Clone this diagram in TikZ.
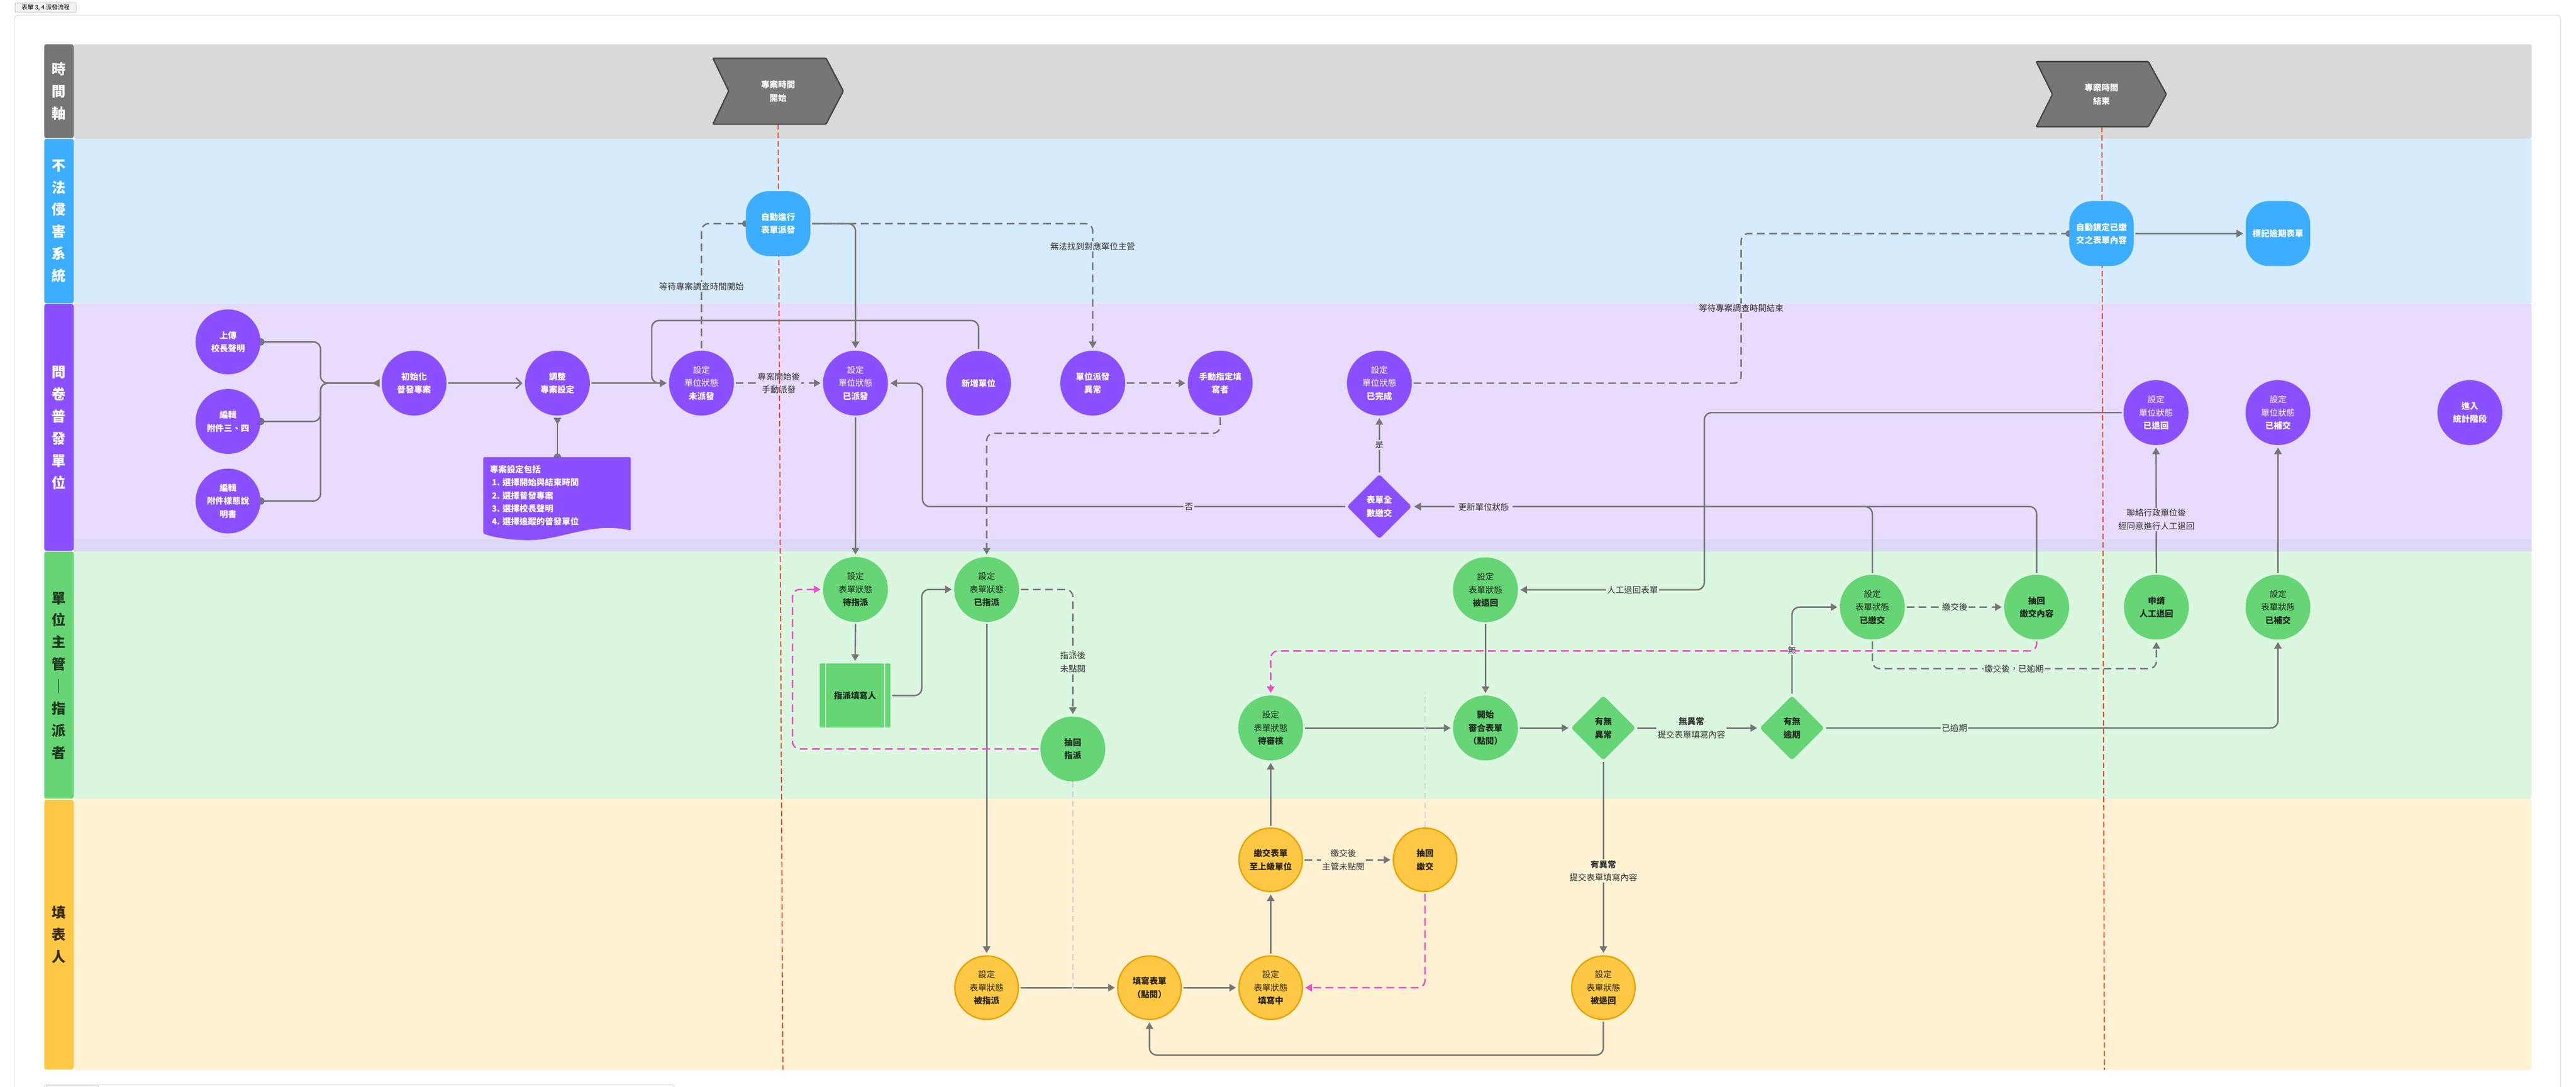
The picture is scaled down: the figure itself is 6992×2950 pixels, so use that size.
\documentclass[tikz,border=0pt]{standalone}
\usepackage{fontspec}
\setmainfont{Noto Sans CJK TC}
\usetikzlibrary{arrows.meta,shapes.geometric}
\definecolor{tbg}{HTML}{D9D9D9}
\definecolor{tlab}{HTML}{767676}
\definecolor{bbg}{HTML}{D6ECFE}
\definecolor{bnode}{HTML}{3DAEFF}
\definecolor{pbg}{HTML}{E7DCFF}
\definecolor{pstrip}{HTML}{DCD8F6}
\definecolor{pnode}{HTML}{8A50FF}
\definecolor{gbg}{HTML}{DCF7E0}
\definecolor{gnode}{HTML}{66D575}
\definecolor{gtext}{HTML}{1C2A1E}
\definecolor{glab}{HTML}{1E3A22}
\definecolor{ybg}{HTML}{FFF1D1}
\definecolor{ynode}{HTML}{FFC845}
\definecolor{yline}{HTML}{E9A300}
\definecolor{ytext}{HTML}{2A2410}
\definecolor{ylab}{HTML}{3A2C08}
\definecolor{ec}{HTML}{767676}
\definecolor{redc}{HTML}{E8472D}
\definecolor{pinkc}{HTML}{F04BC9}
\definecolor{lgc}{HTML}{D6D6D6}
\definecolor{labc}{HTML}{333333}
\definecolor{chevd}{HTML}{474747}
\definecolor{framec}{HTML}{E3E3E3}
\definecolor{tabf}{HTML}{F2F2F2}
\definecolor{tabd}{HTML}{CFCFCF}
\definecolor{botc}{HTML}{CDEBD6}
\newcommand\myNF{\fontsize{6.54pt}{10.1pt}\selectfont}
\newcommand\myLF{\fontsize{10.8pt}{17.07pt}\selectfont\bfseries}
\pgfdeclarelayer{back}
\pgfdeclarelayer{edgel}
\pgfdeclarelayer{labl}
\pgfdeclarelayer{topl}
\pgfsetlayers{back,edgel,labl,topl,main}
\tikzset{
 pn/.style={circle,fill=pnode,minimum size=1.76cm,inner sep=0pt,text=white,align=center,font=\myNF},
 gn/.style={circle,fill=gnode,minimum size=1.76cm,inner sep=0pt,text=gtext,align=center,font=\myNF},
 yn/.style={circle,fill=ynode,draw=yline,line width=1.1pt,minimum size=1.72cm,inner sep=0pt,text=ytext,align=center,font=\myNF},
 bn/.style={rectangle,rounded corners=0.62cm,fill=bnode,minimum width=1.75cm,minimum height=1.76cm,inner sep=0pt,text=white,align=center,font=\myNF\bfseries},
 dm/.style={diamond,aspect=1,minimum width=1.76cm,minimum height=1.76cm,inner sep=0pt,rounded corners=0.08cm,align=center,font=\myNF\bfseries},
 lanelbl/.style={rounded corners=0.06cm},
 conn/.style={draw=ec,line width=1.14pt,rounded corners=0.2cm,shorten >=0.06cm,shorten <=0.04cm},
 ar/.style={-{Triangle[length=0.18cm,width=0.2cm]}},
 rtri/.style={-{Triangle[reversed,length=0.19cm,width=0.2cm]}},
 dsh/.style={dash pattern=on 0.21cm off 0.12cm},
 pk/.style={draw=pinkc},
 lgd/.style={draw=lgc,line width=1.14pt,dash pattern=on 0.16cm off 0.1cm},
 elab/.style={font=\myNF,text=labc,inner sep=0.03cm,align=center},
 vlab/.style={font=\myLF,align=center,inner sep=0pt},
}
\begin{document}
\begin{tikzpicture}[x=0.01cm,y=-0.01cm]
\path[use as bounding box] (0,0) rectangle (6992,2950);
\clip (0,0) rectangle (6992,2950);

% ---------------- background ----------------
\begin{pgfonlayer}{back}
\fill[white] (0,0) rectangle (6992,2950);
\draw[framec,line width=0.6pt,rounded corners=0.1cm] (40,41) rectangle (6950,3100);
\draw[fill=tabf,draw=tabd,line width=0.5pt,rounded corners=0.03cm] (41,8) rectangle (207,33);
\node[font=\fontsize{4.6pt}{5pt}\selectfont,inner sep=0pt] (title) at (124,21) {表單 3, 4 派發流程};
\fill[tbg,rounded corners=0.06cm] (200,120) rectangle (6872,376);
\fill[bbg,rounded corners=0.06cm] (200,376) rectangle (6872,824);
\fill[pbg,rounded corners=0.06cm] (200,824) rectangle (6872,1497);
\fill[pstrip] (200,1464) rectangle (6872,1497);
\fill[gbg,rounded corners=0.06cm] (200,1497) rectangle (6872,2169);
\fill[ybg,rounded corners=0.06cm] (200,2169) rectangle (6872,2904);
\fill[tlab,lanelbl] (120,120) rectangle (200,375);
\fill[bnode,lanelbl] (120,377) rectangle (200,823);
\fill[pnode,lanelbl] (120,825) rectangle (200,1495);
\fill[gnode,lanelbl] (120,1497) rectangle (200,2168);
\fill[ynode,lanelbl] (120,2171) rectangle (200,2903);
\draw[botc,line width=0.6pt,rounded corners=0.05cm] (120,3000) -- (120,2944) -- (1830,2944) -- (1830,3000);
\draw[tabd,line width=0.5pt,rounded corners=0.03cm] (125,3000) -- (125,2947) -- (267,2947) -- (267,3000);
\end{pgfonlayer}

\node[vlab,text=white] (LT) at (160,248) {時\\間\\軸};
\node[vlab,text=white] (LB) at (160,600) {不\\法\\侵\\害\\系\\統};
\node[vlab,text=white] (LP) at (160,1161) {問\\卷\\普\\發\\單\\位};
\node[vlab,text=glab] (LG) at (160,1834) {單\\位\\主\\管\\｜\\指\\派\\者};
\node[vlab,text=ylab] (LY) at (160,2537) {填\\表\\人};

% ---------------- time line chevrons ----------------
\draw[fill=tlab,draw=chevd,line width=1.1pt,rounded corners=0.03cm] (1935,158) -- (2242,158) -- (2289,247) -- (2242,337) -- (1935,337) -- (1978,247) -- cycle;
\node[text=white,font=\myNF\bfseries,align=center] (S) at (2112,248) {專案時間\\開始};
\draw[fill=tlab,draw=chevd,line width=1.1pt,rounded corners=0.03cm] (5527,167) -- (5831,167) -- (5880,256) -- (5831,344) -- (5527,344) -- (5571,256) -- cycle;
\node[text=white,font=\myNF\bfseries,align=center] (E) at (5704,256) {專案時間\\結束};
\coordinate (Sb) at (2112,337);
\coordinate (Sz) at (2125,2904);
\coordinate (Eb) at (5705,344);
\coordinate (Ez) at (5712,2904);

% ---------------- blue lane ----------------
\node[bn] (B1) at (2112,607) {自動進行\\表單派發};
\node[bn] (B2) at (5704,634) {自動鎖定已繳\\交之表單內容};
\node[bn] (B3) at (6183,634) {標記逾期表單};

% ---------------- purple lane ----------------
\node[pn,font=\myNF\bfseries] (P1) at (619,928) {上傳\\校長聲明};
\node[pn,font=\myNF\bfseries] (P2) at (619,1144) {編輯\\附件三、四};
\node[pn,font=\myNF\bfseries] (P3) at (619,1360) {編輯\\附件樣態說\\明書};
\node[pn,font=\myNF\bfseries] (P4) at (1124,1040) {初始化\\普發專案};
\node[pn,font=\myNF\bfseries] (P5) at (1513,1040) {調整\\專案設定};
\node[pn] (P6) at (1904,1040) {設定\\單位狀態\\\textbf{未派發}};
\node[pn] (P7) at (2322,1040) {設定\\單位狀態\\\textbf{已派發}};
\node[pn,font=\myNF\bfseries] (P8) at (2656,1040) {新增單位};
\node[pn,font=\myNF\bfseries] (P9) at (2966,1040) {單位派發\\異常};
\node[pn,font=\myNF\bfseries] (P10) at (3312,1040) {手動指定填\\寫者};
\node[pn] (P11) at (3744,1040) {設定\\單位狀態\\\textbf{已完成}};
\node[dm,fill=pnode,text=white] (P12) at (3744,1375) {表單全\\數繳交};
\node[pn] (P13) at (5852,1120) {設定\\單位狀態\\\textbf{已退回}};
\node[pn] (P14) at (6183,1120) {設定\\單位狀態\\\textbf{已補交}};
\node[pn,font=\myNF\bfseries] (P15) at (6704,1120) {進入\\統計階段};
\fill[pnode,rounded corners=0.03cm] (1312,1241) -- (1712,1241) -- (1712,1440) .. controls (1600,1415) and (1520,1470) .. (1420,1466) .. controls (1370,1464) and (1330,1456) .. (1312,1448) -- cycle;
\node[text=white,font=\myNF\bfseries,align=left,anchor=north west,inner sep=0pt] (NT) at (1329,1262) {專案設定包括\\\ 1. 選擇開始與結束時間\\\ 2. 選擇普發專案\\\ 3. 選擇校長聲明\\\ 4. 選擇追蹤的普發單位};
\coordinate (NTtop) at (1513,1241);

% ---------------- green lane ----------------
\node[gn] (G1) at (2322,1600) {設定\\表單狀態\\\textbf{待指派}};
\node[gn] (G2) at (2678,1600) {設定\\表單狀態\\\textbf{已指派}};
\node[rectangle,fill=gnode,rounded corners=0.03cm,minimum width=1.92cm,minimum height=1.74cm,inner sep=0pt,text=gtext,font=\myNF\bfseries] (G3) at (2321,1888) {指派填寫人};
\draw[white,line width=0.6pt] ([xshift=0.17cm]G3.north west) -- ([xshift=0.17cm]G3.south west);
\draw[white,line width=0.6pt] ([xshift=-0.17cm]G3.north east) -- ([xshift=-0.17cm]G3.south east);
\node[gn,font=\myNF\bfseries] (G4) at (2912,2033) {抽回\\指派};
\node[gn] (G5) at (4032,1601) {設定\\表單狀態\\\textbf{被退回}};
\node[gn] (G6) at (3449,1976) {設定\\表單狀態\\\textbf{待審核}};
\node[gn,font=\myNF\bfseries] (G7) at (4032,1976) {開始\\審合表單\\（點閱）};
\node[dm,fill=gnode,text=gtext] (G8) at (4352,1976) {有無\\異常};
\node[dm,fill=gnode,text=gtext] (G9) at (4864,1976) {有無\\逾期};
\node[gn] (G10) at (5082,1648) {設定\\表單狀態\\\textbf{已繳交}};
\node[gn,font=\myNF\bfseries] (G11) at (5528,1648) {抽回\\繳交內容};
\node[gn,font=\myNF\bfseries] (G12) at (5853,1648) {申請\\人工退回};
\node[gn] (G13) at (6183,1648) {設定\\表單狀態\\\textbf{已補交}};

% ---------------- yellow lane ----------------
\node[yn] (Y1) at (2678,2681) {設定\\表單狀態\\\textbf{被指派}};
\node[yn,font=\myNF\bfseries] (Y2) at (3120,2681) {填寫表單\\（點閱）};
\node[yn] (Y3) at (3449,2681) {設定\\表單狀態\\\textbf{填寫中}};
\node[yn,font=\myNF\bfseries] (Y4) at (3449,2334) {繳交表單\\至上級單位};
\node[yn,font=\myNF\bfseries] (Y5) at (3868,2334) {抽回\\繳交};
\node[yn] (Y6) at (4352,2681) {設定\\表單狀態\\\textbf{被退回}};

% ---------------- connectors ----------------
\begin{pgfonlayer}{edgel}
\draw[conn,shorten <=0pt,rtri,shorten >=0.05cm] (P1.east) -| (870,1040) -- (P4.west);
\draw[conn,shorten <=0pt,rtri,shorten >=0.05cm] (P2.east) -| (870,1040) -- (P4.west);
\draw[conn,shorten <=0pt,rtri,shorten >=0.05cm] (P3.east) -| (870,1040) -- (P4.west);
\fill[ec] (P1.east) circle (0.1cm);
\fill[ec] (P2.east) circle (0.1cm);
\fill[ec] (P3.east) circle (0.1cm);
\draw[conn,-{Straight Barb[length=0.15cm,width=0.29cm]}] (P4.east) -- (P5.west);
\draw[conn,shorten <=0pt,rtri,shorten >=0.05cm] (NTtop) -- (P5.south);
\fill[ec] (NTtop) circle (0.1cm);
\draw[conn,ar] (P5.east) -- (P6.west);
\draw[conn,ar] (P8.north) |- (1769,870) |- (P6.west);
\draw[conn,dsh,ar] (P6.east) -- (P7.west);
\draw[conn,dsh,shorten <=0pt] (B1.west) -| (P6.north);
\draw[conn,dsh,ar] (B1.east) -| (P9.north);
\draw[conn,ar] (B1.east) -| (P7.north);
\fill[ec] (B1.west) circle (0.09cm);
\draw[conn,dsh,ar] (P9.east) -- (P10.west);
\draw[conn,dsh,ar] (P10.south) -- (3312,1176) -| (G2.north);
\draw[conn,ar] (P7.south) -- (G1.north);
\draw[conn,ar] (P12.west) -| (2504,1040) -- (P7.east);
\draw[conn,ar] (P12.north) -- (P11.south);
\draw[conn,dsh,shorten >=0pt] (P11.east) -- (4726,1040) |- (B2.west);
\fill[ec] (B2.west) circle (0.09cm);
\draw[conn,ar] (B2.east) -- (B3.west);
\draw[conn,ar] (G10.north) |- (P12.east);
\draw[conn,ar] (G11.north) |- (P12.east);
\draw[conn,ar] (P13.west) -- (4626,1120) |- (G5.east);
\draw[conn,ar] (G12.north) -- (P13.south);
\draw[conn,ar] (G13.north) -- (P14.south);
\draw[conn,ar] (G1.south) -- (G3.north);
\draw[conn,ar] (G3.east) -- (2502,1888) |- (G2.west);
\draw[conn,dsh,ar] (G2.east) -| (G4.north);
\draw[conn,ar] (G2.south) -- (Y1.north);
\draw[conn,ar] (Y1.east) -- (Y2.west);
\draw[conn,ar] (Y2.east) -- (Y3.west);
\draw[conn,ar] (Y3.north) -- (Y4.south);
\draw[conn,ar] (Y4.north) -- (G6.south);
\draw[conn,dsh,ar] (Y4.east) -- (Y5.west);
\draw[conn,ar] (G6.east) -- (G7.west);
\draw[conn,ar] (G5.south) -- (G7.north);
\draw[conn,ar] (G7.east) -- (G8.west);
\draw[conn,ar] (G8.east) -- (G9.west);
\draw[conn,ar] (G8.south) -- (Y6.north);
\draw[conn,ar] (Y6.south) -- (4352,2864) -| (Y2.south);
\draw[conn,ar] (G9.north) |- (G10.west);
\draw[conn,ar] (G9.east) -| (G13.south);
\draw[conn,dsh,ar] (G10.east) -- (G11.west);
\draw[conn,dsh,ar] (G10.south) -- (5082,1815) -| (G12.south);
\draw[lgd] (G4.south) -- (2912,2694);
\draw[lgd] (Y5.north) -- (3868,1879);
\end{pgfonlayer}

% ---------------- connector labels ----------------
\begin{pgfonlayer}{labl}
\node[elab,fill=bbg] (l1) at (1904,778) {等待專案調查時間開始};
\node[elab,fill=bbg] (l2) at (2966,668) {無法找到對應單位主管};
\node[elab,fill=pbg] (l3) at (2114,1040) {專案開始後\\手動派發};
\node[elab,fill=pbg] (l4) at (3227,1375) {否};
\node[elab,fill=pbg] (l5) at (3744,1207) {是};
\node[elab,fill=pbg,inner xsep=0.1cm] (l6) at (4027,1376) {更新單位狀態};
\node[elab,fill=pbg] (l7) at (4726,837) {等待專案調查時間結束};
\node[elab,fill=pbg] (l8) at (5853,1410) {聯絡行政單位後\\經同意進行人工退回};
\node[elab,fill=gbg] (l9) at (2912,1797) {指派後\\未點閱};
\node[elab,fill=gbg] (l10) at (4431,1601) {人工退回表單};
\node[elab,fill=gbg] (l11) at (4591,1976) {\textbf{無異常}\\提交表單填寫內容};
\node[elab,fill=gbg] (l12) at (4864,1765) {無};
\node[elab,fill=gbg] (l13) at (5305,1976) {已逾期};
\node[elab,fill=gbg] (l14) at (5306,1648) {繳交後};
\node[elab,fill=gbg] (l15) at (5467,1815) {繳交後，已逾期};
\node[elab,fill=ybg] (l16) at (3646,2334) {繳交後\\主管未點閱};
\node[elab,fill=ybg] (l17) at (4352,2364) {\textbf{有異常}\\提交表單填寫內容};
\end{pgfonlayer}

% ---------------- pink and red lines ----------------
\begin{pgfonlayer}{topl}
\draw[conn,pk,dsh,ar] (G4.west) -- (2151,2033) |- (G1.west);
\draw[conn,pk,dsh,ar] (Y5.south) |- (Y3.east);
\draw[conn,pk,dsh,ar] (G11.south) -- (5528,1767) -| (G6.north);
\draw[redc,line width=0.85pt,dash pattern=on 0.15cm off 0.08cm] (Sb) -- (Sz);
\draw[redc,line width=0.85pt,dash pattern=on 0.15cm off 0.08cm] (Eb) -- (Ez);
\end{pgfonlayer}
\end{tikzpicture}
\end{document}
